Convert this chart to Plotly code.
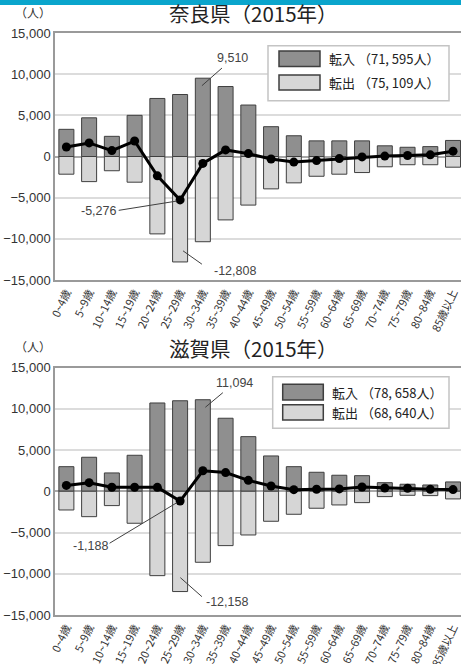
import plotly.graph_objects as go
from plotly.subplots import make_subplots

# Age groups (x categories)
age_groups = ["0~4歳", "5~9歳", "10~14歳", "15~19歳", "20~24歳", "25~29歳",
              "30~34歳", "35~39歳", "40~44歳", "45~49歳", "50~54歳", "55~59歳",
              "60~64歳", "65~69歳", "70~74歳", "75~79歳", "80~84歳", "85歳以上"]

# Nara prefecture, 2015
nara_in = [3300, 4700, 2450, 5000, 7050, 7530, 9510, 8500, 6250, 3620,
           2520, 1900, 1900, 1900, 1300, 1120, 1200, 1950]
nara_out = [-2150, -3050, -1730, -3120, -9400, -12808, -10350, -7700, -5900, -3930,
            -3200, -2400, -2150, -1950, -1250, -1000, -1000, -1300]
nara_net = [1150, 1650, 720, 1880, -2350, -5276, -840, 800, 350, -310,
            -680, -500, -250, -50, 50, 120, 200, 650]

# Shiga prefecture, 2015
shiga_in = [2980, 4120, 2220, 4360, 10700, 10970, 11094, 8850, 6620, 4280,
            2980, 2300, 1940, 1890, 1040, 850, 760, 1130]
shiga_out = [-2270, -3080, -1740, -3880, -10230, -12158, -8610, -6590, -5300, -3640,
             -2790, -2060, -1660, -1380, -650, -490, -530, -930]
shiga_net = [710, 1040, 480, 480, 470, -1188, 2484, 2260, 1320, 640,
             190, 240, 280, 510, 390, 360, 230, 200]

titles = ["奈良県（2015年）", "滋賀県（2015年）"]
legend_in = ["転入 （71, 595人）", "転入 （78, 658人）"]
legend_out = ["転出 （75, 109人）", "転出 （68, 640人）"]

W, H = 461, 664
IN_COLOR = "#8f8f8f"
OUT_COLOR = "#d6d6d6"
EDGE = "#3f3f3f"
NUM_FONT = "Liberation Sans, Arial, Noto Sans CJK JP"
JP_FONT = "Noto Sans CJK JP, Noto Sans CJK SC, sans-serif"

# plot areas in pixels (top, bottom)
areas = [(33, 280), (367.5, 615)]

fig = make_subplots(rows=2, cols=1)
xs = list(range(len(age_groups)))

datasets = [(nara_in, nara_out, nara_net), (shiga_in, shiga_out, shiga_net)]
for r, (vin, vout, vnet) in enumerate(datasets, start=1):
    fig.add_trace(go.Bar(x=xs, y=vin, width=0.66, marker=dict(color=IN_COLOR, line=dict(color=EDGE, width=1)),
                         showlegend=False), row=r, col=1)
    fig.add_trace(go.Bar(x=xs, y=vout, width=0.66, marker=dict(color=OUT_COLOR, line=dict(color=EDGE, width=1)),
                         showlegend=False), row=r, col=1)
    fig.add_trace(go.Scatter(x=xs, y=vnet, mode="lines+markers",
                             line=dict(color="black", width=3),
                             marker=dict(color="black", size=9),
                             showlegend=False), row=r, col=1)

for r, (top, bot) in enumerate(areas, start=1):
    xa = "xaxis" if r == 1 else f"xaxis{r}"
    ya = "yaxis" if r == 1 else f"yaxis{r}"
    fig.layout[ya].update(domain=[1 - bot / H, 1 - top / H], range=[-15000, 15000], dtick=5000,
                          tickformat=",", gridcolor="#dcdcdc", gridwidth=1.5,
                          zeroline=True, zerolinecolor="#a8a8a8", zerolinewidth=1.5,
                          showline=True, linecolor="#9a9a9a", linewidth=1.5,
                          ticks="", automargin=False,
                          tickfont=dict(family=NUM_FONT, size=13, color="#333333"))
    fig.layout[xa].update(range=[-0.5, 17.35], tickmode="array", tickvals=xs, ticktext=age_groups,
                          tickangle=-65, showgrid=False, zeroline=False,
                          showline=True, mirror=True, linecolor="#9a9a9a", linewidth=1.5,
                          ticks="", automargin=False, ticklabeloverflow="allow",
                          tickfont=dict(family=JP_FONT, size=11, color="#333333"))

fig.update_layout(barmode="overlay", width=W, height=H, plot_bgcolor="white", paper_bgcolor="white",
                  margin=dict(l=55, r=0, t=0, b=0), showlegend=False)

shapes = []
annotations = []

# header band along the top edge
shapes.append(dict(type="rect", xref="paper", yref="paper", x0=-0.2, x1=1.2,
                   y0=1 - 5 / H, y1=1.01, fillcolor="#0aa5cc", line=dict(width=0), layer="above"))

def px_to_paper(px, py):
    # paper x is relative to the plot area (left margin 55, right at W)
    return (px - 55) / (W - 55), 1 - py / H

for i, (top, bot) in enumerate(areas):
    # title and unit
    tx, ty = px_to_paper(253, top - 20)
    annotations.append(dict(xref="paper", yref="paper", x=tx, y=ty, text=titles[i], showarrow=False,
                            xanchor="center", yanchor="middle",
                            font=dict(family=JP_FONT, size=20.5, color="#222222")))
    ux, uy = px_to_paper(33, top - 21)
    annotations.append(dict(xref="paper", yref="paper", x=ux, y=uy, text="（人）", showarrow=False,
                            xanchor="center", yanchor="middle",
                            font=dict(family=JP_FONT, size=12, color="#333333")))

# legend boxes
legend_boxes = [
    dict(box=(268, 45.7, 449, 100.7), sw=(279, 320), sy=[(51, 66.5), (75, 90)]),
    dict(box=(272.7, 376.7, 449, 428.3), sw=(282.7, 323.3), sy=[(384.3, 400), (404.7, 420)]),
]
for i, lb in enumerate(legend_boxes):
    bx0, by0, bx1, by1 = lb["box"]
    x0, y0 = px_to_paper(bx0, by0)
    x1, y1 = px_to_paper(bx1, by1)
    shapes.append(dict(type="rect", xref="paper", yref="paper", x0=x0, x1=x1, y0=y1, y1=y0,
                       fillcolor="white", line=dict(color="#c4c4c4", width=1.5), layer="above"))
    for (sy0, sy1), col, txt in zip(lb["sy"], [IN_COLOR, OUT_COLOR], [legend_in[i], legend_out[i]]):
        sx0, s_y0 = px_to_paper(lb["sw"][0], sy0)
        sx1, s_y1 = px_to_paper(lb["sw"][1], sy1)
        shapes.append(dict(type="rect", xref="paper", yref="paper", x0=sx0, x1=sx1, y0=s_y1, y1=s_y0,
                           fillcolor=col, line=dict(color=EDGE, width=1.5), layer="above"))
        tx, ty = px_to_paper(lb["sw"][1] + 7, (sy0 + sy1) / 2)
        annotations.append(dict(xref="paper", yref="paper", x=tx, y=ty, text=txt, showarrow=False,
                                xanchor="left", yanchor="middle",
                                font=dict(family=JP_FONT, size=13, color="#222222")))

# value call-outs: (row, label, label x, label y, leader start, leader end)
callouts = [
    (1, "9,510", 7.29, 11990, (5.96, 8600), (6.84, 10740)),
    (1, "-5,276", 1.41, -6660, (2.30, -6540), (4.86, -5410)),
    (1, "-12,808", 7.43, -13890, (5.13, -11460), (5.96, -13080)),
    (2, "11,094", 7.38, 13160, (6.11, 10180), (6.88, 11950)),
    (2, "-1,188", 1.05, -6630, (1.90, -6300), (4.86, -1380)),
    (2, "-12,158", 7.07, -13420, (5.01, -10470), (5.96, -12780)),
]
for row, text, lx, ly, p0, p1 in callouts:
    xr = "x" if row == 1 else f"x{row}"
    yr = "y" if row == 1 else f"y{row}"
    shapes.append(dict(type="line", xref=xr, yref=yr, x0=p0[0], y0=p0[1], x1=p1[0], y1=p1[1],
                       line=dict(color="#404040", width=1), layer="above"))
    annotations.append(dict(xref=xr, yref=yr, x=lx, y=ly, text=text, showarrow=False,
                            xanchor="center", yanchor="middle",
                            font=dict(family=NUM_FONT, size=12.5, color="#444444")))

fig.update_layout(shapes=shapes, annotations=annotations)
fig.write_html("out.html")
